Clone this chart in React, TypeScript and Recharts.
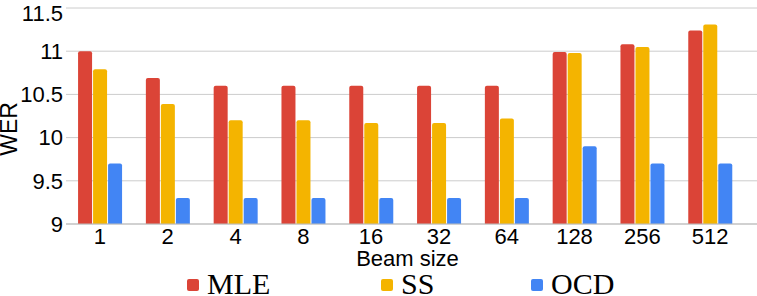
import React from 'react';
import { BarChart, Bar, XAxis, YAxis, CartesianGrid, Legend } from 'recharts';

const beamSizes = ['1', '2', '4', '8', '16', '32', '64', '128', '256', '512'];
const mleValues = [11.0, 10.69, 10.6, 10.6, 10.6, 10.6, 10.6, 10.99, 11.08, 11.24];
const ssValues = [10.79, 10.39, 10.2, 10.2, 10.17, 10.17, 10.22, 10.98, 11.05, 11.31];
const ocdValues = [9.7, 9.3, 9.3, 9.3, 9.3, 9.3, 9.3, 9.9, 9.7, 9.7];
const yTicks = [9, 9.5, 10, 10.5, 11, 11.5];

const series = [
  { key: 'MLE', color: '#db4437', itemWidth: 194 },
  { key: 'SS', color: '#f4b400', itemWidth: 150 },
  { key: 'OCD', color: '#4285f4', itemWidth: 120 },
];

const data = beamSizes.map((beam, i) => ({
  beam,
  MLE: mleValues[i],
  SS: ssValues[i],
  OCD: ocdValues[i],
}));

const sans = '"Liberation Sans", Arial, sans-serif';
const serif = '"Liberation Serif", "Times New Roman", serif';

// legend drawn by hand: serif text, small squares, uneven spacing like the source
const LegendContent = () => (
  <div style={{ height: 24, display: 'flex', paddingLeft: 187 }}>
    {series.map((s) => (
      <div key={s.key} style={{ position: 'relative', width: s.itemWidth, height: 24 }}>
        <div
          style={{
            position: 'absolute',
            left: 0,
            top: 7,
            width: 12,
            height: 12,
            borderRadius: 2,
            background: s.color,
          }}
        />
        <span
          style={{
            position: 'absolute',
            left: 20,
            top: -3,
            fontFamily: serif,
            fontSize: 30,
            lineHeight: '30px',
            color: '#000',
            whiteSpace: 'nowrap',
          }}
        >
          {s.key}
        </span>
      </div>
    ))}
  </div>
);

const WerLabel = (props: any) => {
  const vb = props.viewBox || { x: 0, y: 8, width: 67, height: 216 };
  const cx = 17;
  const cy = vb.y + vb.height / 2 + 13;
  return (
    <text
      x={cx}
      y={cy}
      transform={`rotate(-90, ${cx}, ${cy})`}
      textAnchor="middle"
      fontFamily={sans}
      fontSize={23}
      fill="#000"
    >
      WER
    </text>
  );
};

export default function App() {
  return (
    <div style={{ position: 'absolute', left: 0, top: 0, width: 757, height: 296, background: '#fff' }}>
      <BarChart
        width={757}
        height={296}
        data={data}
        margin={{ top: 8, right: 0, bottom: 0, left: 0 }}
        barCategoryGap="17.8%"
        barGap={1}
      >
        <CartesianGrid vertical={false} stroke="#cccccc" />
        <XAxis
          dataKey="beam"
          height={48}
          padding={{ left: 0, right: 13 }}
          tickLine={false}
          tickSize={0}
          tickMargin={4}
          axisLine={{ stroke: '#bdbdbd' }}
          tick={{ fontFamily: sans, fontSize: 22, fill: '#000' }}
          interval={0}
          label={{
            value: 'Beam size',
            position: 'insideBottom',
            offset: 6,
            dx: -4,
            style: { fontFamily: sans, fontSize: 22, fill: '#000' },
          }}
        />
        <YAxis
          width={66}
          domain={[9, 11.5]}
          ticks={yTicks}
          allowDataOverflow
          axisLine={false}
          tickLine={false}
          tickMargin={3}
          tickSize={0}
          tick={{ fontFamily: sans, fontSize: 22, fill: '#000' }}
          label={<WerLabel />}
        />
        <Legend verticalAlign="bottom" content={<LegendContent />} />
        {series.map((s) => (
          <Bar
            key={s.key}
            dataKey={s.key}
            fill={s.color}
            radius={[2, 2, 0, 0]}
            isAnimationActive={false}
          />
        ))}
      </BarChart>
    </div>
  );
}
